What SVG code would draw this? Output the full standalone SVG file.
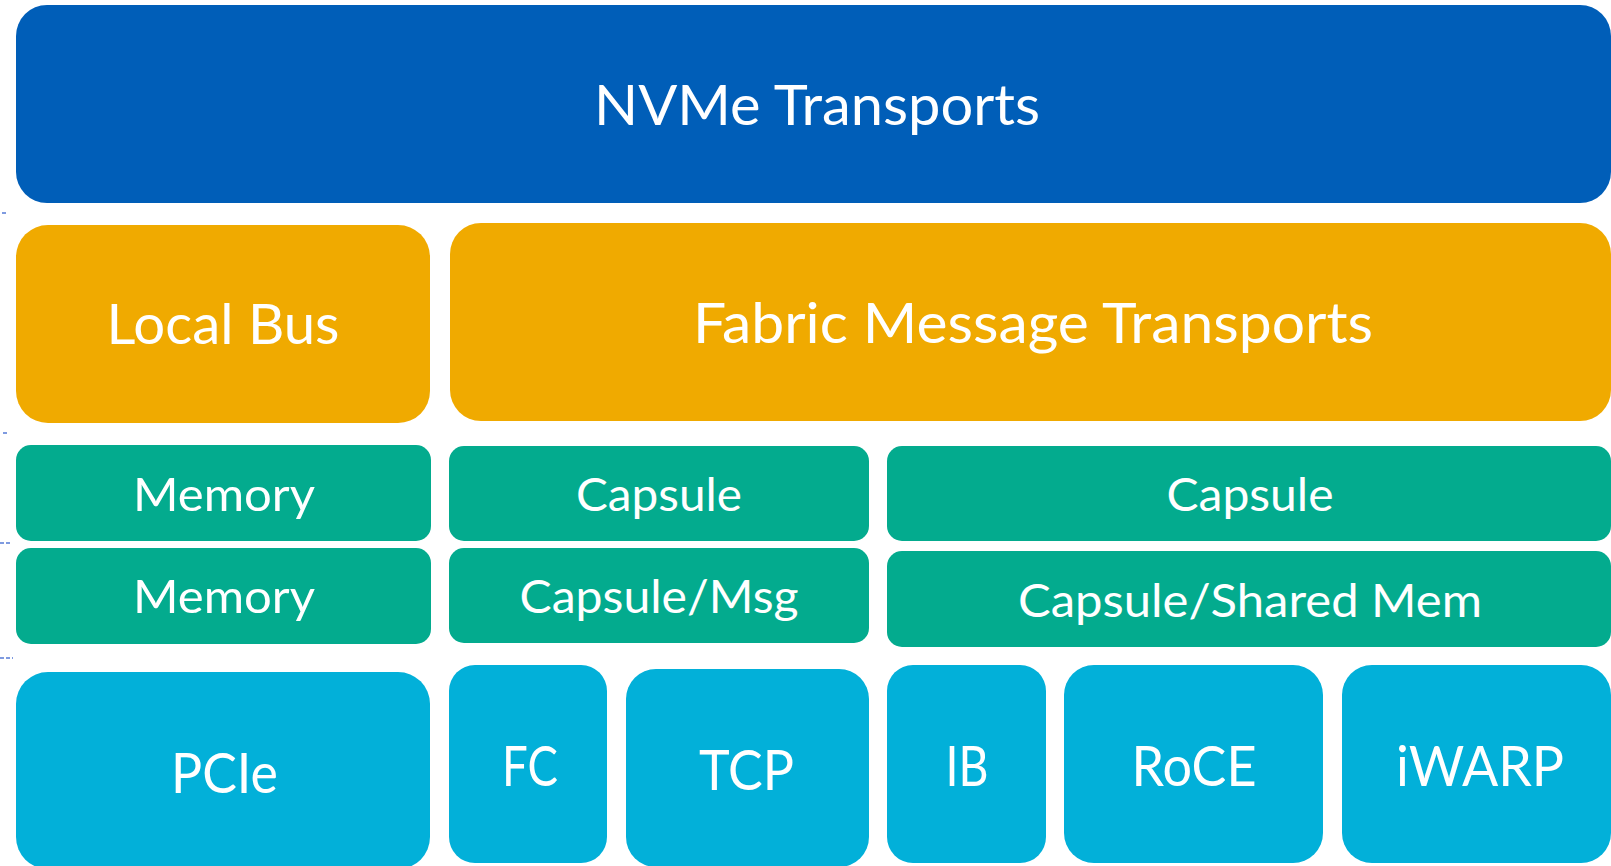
<svg xmlns="http://www.w3.org/2000/svg" width="1611" height="866" viewBox="0 0 1611 866">
<style>
.t{font-family:Lato,"Open Sans","Liberation Sans",sans-serif;fill:#ffffff;text-anchor:middle}
.blue{fill:#005EB8}
.orange{fill:#F0AA00}
.green{fill:#03AB8E}
.cyan{fill:#02B0D9}
.guide{stroke:#7F9BE0;stroke-width:2;stroke-dasharray:4 2}
</style>
<rect width="1611" height="866" fill="#ffffff"/>
<g id="guides">
<line class="guide" x1="2" y1="213" x2="7" y2="213"/>
<line class="guide" x1="3" y1="433" x2="8" y2="433"/>
<line class="guide" x1="0" y1="543" x2="10" y2="543"/>
<line class="guide" x1="0" y1="658" x2="13" y2="658"/>
</g>
<g id="nvme-transports">
<rect class="blue" x="16" y="5" width="1595" height="198" rx="31"/>
<text class="t" x="817" y="125" font-size="56" textLength="446" lengthAdjust="spacingAndGlyphs">NVMe Transports</text>
</g>
<g id="local-bus">
<rect class="orange" x="16" y="225" width="414" height="198" rx="32"/>
<text class="t" x="223" y="344" font-size="57" textLength="233" lengthAdjust="spacingAndGlyphs">Local Bus</text>
</g>
<g id="fabric-message-transports">
<rect class="orange" x="450" y="223" width="1161" height="198" rx="31"/>
<text class="t" x="1033" y="343" font-size="57" textLength="680" lengthAdjust="spacingAndGlyphs">Fabric Message Transports</text>
</g>
<g id="memory-1">
<rect class="green" x="16" y="445" width="415" height="96" rx="15"/>
<text class="t" x="224" y="511" font-size="47" textLength="182" lengthAdjust="spacingAndGlyphs">Memory</text>
</g>
<g id="memory-2">
<rect class="green" x="16" y="548" width="415" height="96" rx="15"/>
<text class="t" x="224" y="613" font-size="47" textLength="182" lengthAdjust="spacingAndGlyphs">Memory</text>
</g>
<g id="capsule-1">
<rect class="green" x="449" y="446" width="420" height="95" rx="15"/>
<text class="t" x="659" y="511" font-size="47" textLength="166" lengthAdjust="spacingAndGlyphs">Capsule</text>
</g>
<g id="capsule-msg">
<rect class="green" x="449" y="548" width="420" height="95" rx="15"/>
<text class="t" x="659" y="613" font-size="47" textLength="279" lengthAdjust="spacingAndGlyphs">Capsule/Msg</text>
</g>
<g id="capsule-2">
<rect class="green" x="887" y="446" width="724" height="95" rx="15"/>
<text class="t" x="1250" y="511" font-size="47" textLength="167" lengthAdjust="spacingAndGlyphs">Capsule</text>
</g>
<g id="capsule-shared-mem">
<rect class="green" x="887" y="551" width="724" height="96" rx="15"/>
<text class="t" x="1250" y="617" font-size="47" textLength="464" lengthAdjust="spacingAndGlyphs">Capsule/Shared Mem</text>
</g>
<g id="pcie">
<rect class="cyan" x="16" y="672" width="414" height="197" rx="32"/>
<text class="t" x="224.5" y="793" font-size="56" textLength="107" lengthAdjust="spacingAndGlyphs">PCIe</text>
</g>
<g id="fc">
<rect class="cyan" x="449" y="665" width="158" height="198" rx="26"/>
<text class="t" x="530" y="786" font-size="56" textLength="56" lengthAdjust="spacingAndGlyphs">FC</text>
</g>
<g id="tcp">
<rect class="cyan" x="626" y="669" width="243" height="198" rx="30"/>
<text class="t" x="746.5" y="790" font-size="56" textLength="95" lengthAdjust="spacingAndGlyphs">TCP</text>
</g>
<g id="ib">
<rect class="cyan" x="887" y="665" width="159" height="198" rx="26"/>
<text class="t" x="967" y="786" font-size="56" textLength="43" lengthAdjust="spacingAndGlyphs">IB</text>
</g>
<g id="roce">
<rect class="cyan" x="1064" y="665" width="259" height="198" rx="30"/>
<text class="t" x="1194" y="786" font-size="56" textLength="125" lengthAdjust="spacingAndGlyphs">RoCE</text>
</g>
<g id="iwarp">
<rect class="cyan" x="1342" y="665" width="269" height="198" rx="30"/>
<text class="t" x="1480" y="786" font-size="56" textLength="168" lengthAdjust="spacingAndGlyphs">iWARP</text>
</g>
<g id="connectors"/>
</svg>
